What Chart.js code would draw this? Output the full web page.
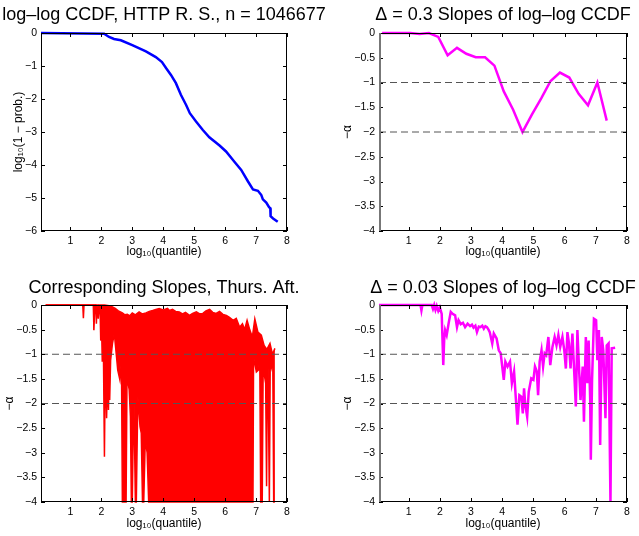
<!DOCTYPE html>
<html>
<head>
<meta charset="utf-8">
<script src="https://cdn.jsdelivr.net/npm/chart.js@4.4.1/dist/chart.umd.min.js"></script>
<style>
  html, body { margin: 0; padding: 0; background: #fff; }
  body { position: relative; width: 639px; height: 536px; overflow: hidden; }
  canvas { position: absolute; }
</style>
</head>
<body>
<canvas id="ccdf"></canvas>
<canvas id="coarse"></canvas>
<canvas id="slopes"></canvas>
<canvas id="fine"></canvas>
<script>
// axis ticks
const xTicks = [1, 2, 3, 4, 5, 6, 7, 8];
const ccdfTicks = [0, -1, -2, -3, -4, -5, -6];
const slopeTicks = [0, -0.5, -1, -1.5, -2, -2.5, -3, -3.5, -4];
const refLevels = [-1, -2];
const xMin = 0.05, xMax = 8;

// log-log CCDF (top left)
const ccdfX = [0.05, 2.09, 2.25, 2.41, 2.63, 3.0, 3.44, 3.76, 3.96, 4.09, 4.25, 4.41, 4.57, 4.74, 4.86, 5.06, 5.28, 5.49, 5.82, 6.03,
  6.3, 6.52, 6.74, 6.9, 7.06, 7.17, 7.22, 7.33, 7.42, 7.46, 7.47, 7.55, 7.7];
const ccdfY = [0, -0.02, -0.12, -0.18, -0.22, -0.37, -0.56, -0.73, -0.88, -1.06, -1.27, -1.52, -1.87, -2.18, -2.43, -2.68, -2.94, -3.16, -3.41, -3.59,
  -3.9, -4.15, -4.5, -4.74, -4.78, -4.91, -5.04, -5.14, -5.28, -5.31, -5.55, -5.62, -5.72];

// delta = 0.3 slopes (top right)
const coarseX = [0.15, 0.45, 0.75, 1.05, 1.35, 1.65, 1.95, 2.25, 2.55, 2.85, 3.15, 3.45, 3.75, 4.05, 4.35, 4.65, 4.95, 5.25, 5.55, 5.85, 6.15, 6.45, 6.75, 7.05, 7.35];
const coarseY = [0, 0, 0, 0, -0.02, 0, -0.08, -0.45, -0.3, -0.42, -0.49, -0.49, -0.66, -1.18, -1.55, -2.0, -1.65, -1.32, -0.97, -0.8, -0.9, -1.23, -1.46, -1.0, -1.77];

// corresponding slopes (bottom left): upper and lower edge of the red band
const topX = [0.2, 2.1, 2.3, 2.45, 2.55, 2.68, 2.76, 2.84, 2.92, 3.0, 3.1, 3.22, 3.32, 3.44, 3.55, 3.66, 3.76, 3.87, 4.0, 4.14,
  4.2, 4.3, 4.4, 4.52, 4.62, 4.72, 4.85, 4.95, 5.07, 5.18, 5.28, 5.38, 5.5, 5.6, 5.71, 5.82, 5.93, 6.04, 6.14, 6.26,
  6.36, 6.47, 6.56, 6.63, 6.71, 6.8, 6.88, 6.96, 7.06, 7.17, 7.26, 7.35, 7.45, 7.53, 7.61];
const topY = [0, 0, -0.02, -0.07, -0.12, -0.16, -0.2, -0.19, -0.22, -0.16, -0.2, -0.14, -0.18, -0.16, -0.13, -0.11, -0.09, -0.07, -0.1, -0.07,
  -0.11, -0.09, -0.13, -0.14, -0.18, -0.15, -0.21, -0.17, -0.14, -0.18, -0.17, -0.12, -0.09, -0.15, -0.17, -0.13, -0.19, -0.21, -0.25, -0.31,
  -0.27, -0.45, -0.38, -0.5, -0.31, -0.51, -0.65, -0.28, -0.55, -0.61, -0.82, -0.9, -0.78, -1.0, -0.88];
const lowX = [0.2, 1.4, 1.42, 1.44, 1.74, 1.76, 1.79, 1.82, 1.84, 1.86, 1.88, 1.9, 1.93, 1.96, 1.98, 2.0, 2.03, 2.06, 2.1, 2.13,
  2.17, 2.2, 2.23, 2.25, 2.27, 2.3, 2.36, 2.42, 2.49, 2.53, 2.6, 2.65, 2.68, 2.8, 2.83, 2.9, 2.94, 2.97, 3.0, 3.05,
  3.1, 3.13, 3.18, 3.25, 3.29, 3.33, 3.37, 3.42, 3.48, 3.53, 6.9, 6.92, 6.94, 7.01, 7.08, 7.12, 7.15, 7.2, 7.23, 7.26,
  7.31, 7.34, 7.37, 7.39, 7.43, 7.46, 7.5, 7.54, 7.57, 7.61];
const lowY = [0, 0, -0.27, 0, 0, -0.51, 0, 0, -0.38, 0, 0, -0.28, -0.05, -0.1, -0.72, -0.2, -1.15, -0.5, -3.08, -1.0,
  -2.3, -1.4, -2.13, -1.5, -1.93, -1.12, -0.78, -0.58, -1.05, -1.32, -1.52, -1.12, -4, -4, -1.45, -1.72, -2.27, -4, -4, -1.72,
  -4, -4, -1.86, -2.47, -2.6, -4, -4, -2.74, -3.0, -4, -4, -1.0, -1.12, -1.36, -1.32, -1.05, -4, -4, -1.2, -1.39,
  -1.59, -3.68, -1.1, -1.32, -4, -1.0, -1.25, -1.1, -4, -4];

// delta = 0.03 slopes (bottom right)
const fineX = [0.05, 1.38, 1.41, 1.44, 1.74, 1.78, 1.82, 1.86, 1.9, 1.95, 2.0, 2.06, 2.11, 2.14, 2.17, 2.22, 2.28, 2.35, 2.41, 2.49,
  2.55, 2.6, 2.67, 2.74, 2.81, 2.89, 2.97, 3.03, 3.08, 3.14, 3.19, 3.25, 3.3, 3.36, 3.41, 3.46, 3.51, 3.56, 3.6, 3.68,
  3.73, 3.82, 3.89, 3.95, 3.99, 4.05, 4.1, 4.17, 4.25, 4.31, 4.38, 4.44, 4.49, 4.55, 4.61, 4.66, 4.7, 4.74, 4.8, 4.85,
  4.93, 5.0, 5.05, 5.11, 5.15, 5.2, 5.26, 5.31, 5.36, 5.41, 5.48, 5.54, 5.61, 5.68, 5.74, 5.8, 5.86, 5.93, 5.99, 6.04,
  6.09, 6.14, 6.19, 6.25, 6.29, 6.36, 6.41, 6.47, 6.51, 6.58, 6.62, 6.68, 6.73, 6.77, 6.82, 6.84, 6.88, 6.94, 7.01, 7.05,
  7.1, 7.14, 7.19, 7.24, 7.31, 7.35, 7.41, 7.47, 7.51, 7.62];
const fineY = [0, 0, -0.11, 0, 0, -0.08, 0, -0.1, -0.02, -0.12, -0.05, -0.18, -1.22, -0.7, -0.51, -0.61, -0.38, -0.14, -0.18, -0.21,
  -0.45, -0.31, -0.39, -0.36, -0.45, -0.38, -0.43, -0.4, -0.46, -0.42, -0.55, -0.44, -0.45, -0.42, -0.48, -0.43, -0.45, -0.5, -0.55, -0.78,
  -0.58, -0.68, -0.92, -0.98, -1.19, -1.52, -1.15, -1.25, -1.15, -1.59, -1.35, -1.93, -2.43, -1.83, -1.86, -2.2, -1.69, -2.03, -2.27, -1.76,
  -1.49, -1.52, -1.25, -1.35, -1.83, -1.15, -0.92, -1.25, -0.98, -1.02, -0.65, -1.22, -0.85, -0.65, -0.82, -0.61, -0.85, -0.65, -0.92, -1.29,
  -0.55, -0.78, -1.29, -0.58, -1.12, -2.06, -0.51, -1.39, -1.93, -1.25, -2.37, -0.65, -1.59, -0.72, -1.93, -3.14, -1.52, -0.28, -0.31, -1.12,
  -0.51, -2.84, -0.65, -0.92, -2.3, -0.82, -0.78, -4.0, -0.88, -0.87];

const FONT = "'Liberation Sans', Arial, Helvetica, sans-serif";
const pts = (xs, ys) => xs.map((x, i) => ({ x: x, y: ys[i] }));

function line(xs, ys, color, width, extra) {
  return Object.assign({
    data: pts(xs, ys), borderColor: color, backgroundColor: color, borderWidth: width,
    pointRadius: 0, tension: 0, fill: false, clip: 4, order: 1
  }, extra || {});
}

function refLines() {
  return refLevels.map(v => ({
    data: [{ x: xMin, y: v }, { x: xMax, y: v }],
    borderColor: '#555', borderWidth: 1, borderDash: [7, 4],
    pointRadius: 0, fill: false, order: 0
  }));
}

// matlab style box with inward ticks
const boxPlugin = {
  id: 'box',
  afterDatasetsDraw(chart, args, opts) {
    const { ctx, chartArea: a, scales } = chart;
    ctx.save();
    ctx.strokeStyle = '#000';
    ctx.lineWidth = 1;
    ctx.beginPath();
    scales.x.ticks.forEach(t => {
      const px = Math.round(scales.x.getPixelForValue(t.value)) + 0.5;
      ctx.moveTo(px, a.bottom); ctx.lineTo(px, a.bottom - 4);
      ctx.moveTo(px, a.top); ctx.lineTo(px, a.top + 4);
    });
    scales.y.ticks.forEach(t => {
      const py = Math.round(scales.y.getPixelForValue(t.value)) + 0.5;
      ctx.moveTo(a.left, py); ctx.lineTo(a.left + 4, py);
      ctx.moveTo(a.right, py); ctx.lineTo(a.right - 4, py);
    });
    ctx.stroke();
    ctx.strokeRect(a.left + 0.5, a.top + 0.5, a.right - a.left - 1, a.bottom - a.top - 1);
    if (opts.leftEdge) {
      ctx.strokeStyle = '#777';
      ctx.lineWidth = 2;
      ctx.beginPath();
      ctx.moveTo(a.left + 1, a.top);
      ctx.lineTo(a.left + 1, a.bottom);
      ctx.stroke();
    }
    ctx.restore();
  }
};

function makePanel(id, g, title, yTitle, yMin, yTicks, datasets) {
  const wl = 45;
  const cv = document.getElementById(id);
  const left = g.left - wl;
  cv.width = g.right - g.left + 2 * wl;
  cv.height = 268;
  cv.style.left = left + 'px';
  cv.style.top = g.top0 + 'px';
  const tTop = g.titleMid - g.top0 - 10.8;
  const tickFont = { family: FONT, size: 10.5 };
  const labFont = { family: FONT, size: 12, lineHeight: 1.2 };

  return new Chart(cv, {
    type: 'line',
    data: { datasets: datasets },
    options: {
      responsive: false,
      animation: false,
      events: [],
      layout: { padding: 0 },
      plugins: {
        legend: { display: false },
        tooltip: { enabled: false },
        title: {
          display: true, text: title, color: '#000',
          font: { family: FONT, size: 18, weight: 'normal', lineHeight: 1.2 },
          padding: { top: tTop, bottom: g.areaTop - g.top0 - 21.6 - tTop }
        },
        box: { leftEdge: g.leftEdge }
      },
      scales: {
        x: {
          type: 'linear', min: xMin, max: xMax,
          afterBuildTicks: s => { s.ticks = xTicks.map(v => ({ value: v })); },
          afterFit: s => { s.height = g.top0 + 268 - g.areaBottom; },
          grid: { display: false, drawTicks: false },
          border: { display: false },
          ticks: { font: tickFont, color: '#000', padding: 4, autoSkip: false, maxRotation: 0, callback: v => String(v) },
          title: {
            display: true, text: 'log₁₀(quantile)', color: '#000', font: labFont,
            padding: { top: 0, bottom: g.top0 + 268 - g.xTitleY - 7.2 }
          }
        },
        y: {
          type: 'linear', min: yMin, max: 0,
          afterBuildTicks: s => { s.ticks = yTicks.map(v => ({ value: v })); },
          afterFit: s => { s.width = wl; },
          grid: { display: false, drawTicks: false },
          border: { display: false },
          ticks: { font: tickFont, color: '#000', padding: 4, autoSkip: false, callback: v => String(v).replace('-', '−') },
          title: {
            display: true, text: yTitle, color: '#000', font: labFont,
            padding: { top: g.yTitleX - left - 7.2, bottom: 0 }
          }
        },
        y2: {
          type: 'linear', position: 'right', display: true,
          grid: { display: false }, border: { display: false }, ticks: { display: false },
          afterFit: s => { s.width = wl; }
        }
      }
    },
    plugins: [boxPlugin]
  });
}

makePanel('ccdf',
  { left: 41, right: 287, top0: 0, areaTop: 33, areaBottom: 231, titleMid: 15.5, xTitleY: 252, yTitleX: 19, leftEdge: false },
  'log–log CCDF, HTTP R. S., n = 1046677', 'log₁₀(1 − prob.)', -6, ccdfTicks,
  [line(ccdfX, ccdfY, '#0000ff', 2.5)]);

makePanel('coarse',
  { left: 379, right: 627, top0: 0, areaTop: 33, areaBottom: 231, titleMid: 15.5, xTitleY: 252, yTitleX: 348, leftEdge: true },
  'Δ = 0.3 Slopes of log–log CCDF', '−α', -4, slopeTicks,
  [line(coarseX, coarseY, '#ff00ff', 2.5)].concat(refLines()));

makePanel('slopes',
  { left: 41, right: 287, top0: 268, areaTop: 305, areaBottom: 502, titleMid: 288.5, xTitleY: 524, yTitleX: 10, leftEdge: false },
  'Corresponding Slopes, Thurs. Aft.', '−α', -4, slopeTicks,
  [line(topX, topY, '#ff0000', 1.5, { fill: '+1' }), line(lowX, lowY, '#ff0000', 1.5)].concat(refLines()));

makePanel('fine',
  { left: 379, right: 627, top0: 268, areaTop: 305, areaBottom: 502, titleMid: 288.5, xTitleY: 524, yTitleX: 348, leftEdge: true },
  'Δ = 0.03 Slopes of log–log CCDF', '−α', -4, slopeTicks,
  [line(fineX, fineY, '#ff00ff', 2.5)].concat(refLines()));
</script>
</body>
</html>
